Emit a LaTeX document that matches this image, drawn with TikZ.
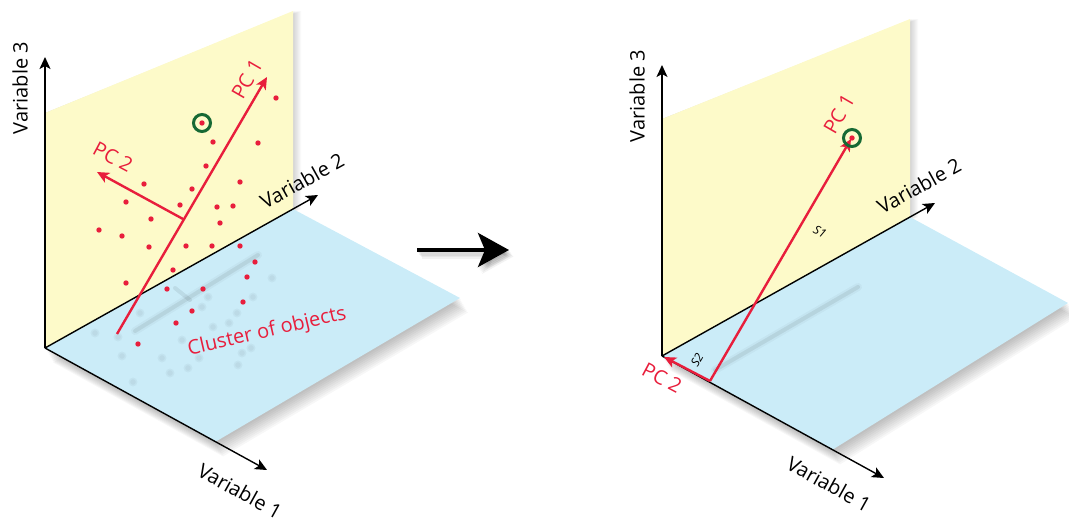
\documentclass[tikz,border=0pt]{standalone}
\usepackage{fontspec}
\setmainfont{Open Sans}
\usetikzlibrary{arrows.meta,calc}

\definecolor{planeyellow}{RGB}{253,250,201}
\definecolor{planeblue}{RGB}{203,236,248}
\definecolor{pcred}{RGB}{232,30,60}
\definecolor{markgreen}{RGB}{22,105,52}

\begin{document}
\begin{tikzpicture}[x=1pt, y=-1pt,
    lbl/.style={font=\fontsize{20}{23}\selectfont, inner sep=0pt},
    pclbl/.style={lbl, text=pcred},
    slbl/.style={font=\fontsize{12}{14}\selectfont\itshape, inner sep=0pt},
    axis/.style={-{Stealth[length=12pt,width=11pt,inset=3pt]}, line width=1.4pt},
    pc/.style={-{Stealth[length=12pt,width=11pt,inset=3pt]}, line width=2.4pt, draw=pcred},
    bigarrow/.style={-{Stealth[length=31pt,width=34pt,inset=7pt]}, line width=4pt},
    dot/.style={fill=pcred},
    ghost/.style={fill=black, opacity=0.035},
    ghostline/.style={draw=black, opacity=0.07, line width=4pt, line cap=round},
    ring/.style={draw=markgreen, line width=3pt}]

  \useasboundingbox (0,0) rectangle (1069,519);

  % left panel
  \coordinate (o)   at (45,348);
  \coordinate (ytl) at (45,113);
  \coordinate (ytr) at (293,11);
  \coordinate (e2)  at (293,209);
  \coordinate (bc)  at (460,298);
  \coordinate (bb)  at (215,442);
  \coordinate (v3)  at (45,57);
  \coordinate (v2)  at (318,195);
  \coordinate (v1)  at (267,470);

  \foreach \k in {1,...,9} {
    \fill[black, opacity=0.03] ($(e2)+(\k*0.9,\k*1.6)$) -- ($(bc)+(\k*0.9,\k*1.6)$)
      -- ($(bb)+(\k*0.9,\k*1.6)$) -- ($(o)+(\k*0.9,\k*1.6)$) -- cycle;
    \fill[black, opacity=0.018] ($(ytr)+(\k*0.9,0)$) -- ($(e2)+(\k*0.9,0)$) -- (o) -- (ytl) -- cycle;
  }
  \fill[planeblue] (o) -- (e2) -- (bc) -- (bb) -- cycle;
  \fill[planeyellow] (o) -- (ytl) -- (ytr) -- (e2) -- cycle;

  \draw[ghostline] (258,255) -- (135,331);
  \draw[ghostline, line width=8pt, opacity=0.03] (258,255) -- (135,331);
  \draw[ghostline] (175,288) -- (190,300);
  \foreach \p in {(95,333),(122,356),(133,382),(162,358),(170,373),(188,368),(199,358),
                  (238,365),(242,353),(251,348),(272,278),(253,297),(237,313),(229,323),
                  (213,327),(202,307),(208,297),(182,340),(140,313),(118,337)} {
    \fill[ghost] \p circle (4.5);
    \fill[ghost] \p circle (2.8);
  }

  \draw[axis] (o) -- (v3);
  \draw[axis] (o) -- (v2);
  \draw[axis] (o) -- (v1);

  \foreach \p in {(276,98),(202,123),(213,142),(258,143),(206,166),(144,184),(192,189),
                  (240,182),(126,202),(180,205),(217,207),(233,206),(151,219),(220,223),
                  (99,230),(122,236),(149,247),(186,246),(212,246),(240,246),(255,262),
                  (126,283),(173,270),(247,277),(167,289),(203,289),(243,302),(192,311),
                  (176,323),(138,344)}
    \fill[dot] \p circle (2.7);
  \draw[ring] (202,123) circle (8.5);

  \coordinate (pc1a) at (117,334);
  \coordinate (pc1b) at (267,77);
  \coordinate (pc2a) at (183,219);
  \coordinate (pc2b) at (97,172);
  \draw[pc] (pc1a) -- (pc1b);
  \draw[pc] (pc2a) -- (pc2b);

  \node[lbl, rotate=90]  (v3lbl) at (20,88)   {Variable 3};
  \node[lbl, rotate=29]  (v2lbl) at (302,181) {Variable 2};
  \node[lbl, rotate=-29] (v1lbl) at (240,491) {Variable 1};
  \node[pclbl, rotate=60]  (pc1lbl) at (247,79)  {PC 1};
  \node[pclbl, rotate=-28] (pc2lbl) at (113,157) {PC 2};
  \node[pclbl, rotate=13]  (clbl)   at (267,332) {Cluster of objects};

  % middle arrow
  \coordinate (ma) at (417,250);
  \coordinate (mb) at (509,250);
  \foreach \k in {1,...,5}
    \draw[bigarrow, opacity=0.05] ($(ma)+(\k*0.9,\k*1.3)$) -- ($(mb)+(\k*0.9,\k*1.3)$);
  \draw[bigarrow] (ma) -- (mb);

  % right panel
  \coordinate (ro)   at (662,356);
  \coordinate (rytl) at (662,119);
  \coordinate (rytr) at (910,19);
  \coordinate (re2)  at (910,217);
  \coordinate (rbc)  at (1068,303);
  \coordinate (rbb)  at (832,450);
  \coordinate (rv3)  at (662,65);
  \coordinate (rv2)  at (935,203);
  \coordinate (rv1)  at (884,478);

  \foreach \k in {1,...,9} {
    \fill[black, opacity=0.03] ($(re2)+(\k*0.9,\k*1.6)$) -- ($(rbc)+(\k*0.9,\k*1.6)$)
      -- ($(rbb)+(\k*0.9,\k*1.6)$) -- ($(ro)+(\k*0.9,\k*1.6)$) -- cycle;
    \fill[black, opacity=0.018] ($(rytr)+(\k*0.9,0)$) -- ($(re2)+(\k*0.9,0)$) -- (ro) -- (rytl) -- cycle;
  }
  \fill[planeblue] (ro) -- (re2) -- (rbc) -- (rbb) -- cycle;
  \fill[planeyellow] (ro) -- (rytl) -- (rytr) -- (re2) -- cycle;

  \draw[ghostline] (715,370) -- (858,287);
  \draw[ghostline, line width=8pt, opacity=0.03] (715,370) -- (858,287);

  \draw[axis] (ro) -- (rv3);
  \draw[axis] (ro) -- (rv2);
  \draw[axis] (ro) -- (rv1);

  \coordinate (rpc) at (710,381);
  \coordinate (rpc1) at (851,139);
  \coordinate (rpc2) at (664,357);
  \draw[pc] (rpc) -- (rpc2);
  \draw[pc] (rpc) -- (rpc1);
  \fill[dot] (852,138) circle (2.7);
  \draw[ring] (852,138) circle (8.5);

  \node[lbl, rotate=90]  (rv3lbl) at (637,96)  {Variable 3};
  \node[lbl, rotate=29]  (rv2lbl) at (919,186) {Variable 2};
  \node[lbl, rotate=-29] (rv1lbl) at (829,484) {Variable 1};
  \node[pclbl, rotate=60]  (rpc1lbl) at (839,114) {PC 1};
  \node[pclbl, rotate=-28] (rpc2lbl) at (662,378) {PC 2};
  \node[slbl, rotate=-28] (s1lbl) at (820,232) {S1};
  \node[slbl, rotate=60]  (s2lbl) at (697,360) {S2};
\end{tikzpicture}
\end{document}
